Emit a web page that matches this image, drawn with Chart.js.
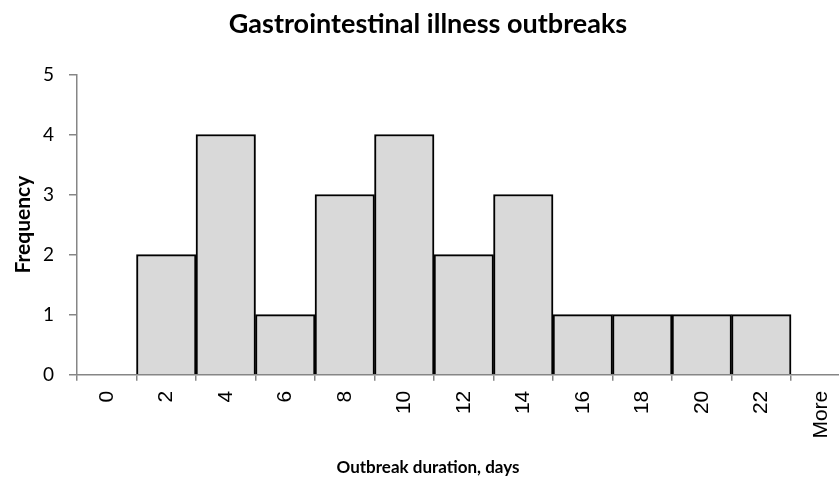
<!DOCTYPE html>
<html>
<head>
<meta charset="utf-8">
<script src="https://cdn.jsdelivr.net/npm/chart.js@4/dist/chart.umd.min.js"></script>
<style>
  html, body { margin: 0; padding: 0; background: #fff; overflow: hidden; }
  #wrap { width: 856px; height: 478px; }
</style>
</head>
<body>
<div id="wrap"><canvas id="c" width="856" height="478"></canvas></div>
<script>
// Histogram bins (upper bound of each duration bin, in days) and counts
const binLabels = ['0', '2', '4', '6', '8', '10', '12', '14', '16', '18', '20', '22', 'More'];
const frequency = [0, 2, 4, 1, 3, 4, 2, 3, 1, 1, 1, 1, 0];
const yTicks = [0, 1, 2, 3, 4, 5];

const axisGray = '#868686';
const fontFamily = 'Lato, "Open Sans", sans-serif';

new Chart(document.getElementById('c'), {
  type: 'bar',
  data: {
    labels: binLabels,
    datasets: [{
      data: frequency,
      backgroundColor: '#d9d9d9',
      borderColor: '#000000',
      borderWidth: 2,
      barPercentage: 1.0,
      categoryPercentage: 1.0
    }]
  },
  options: {
    responsive: false,
    animation: false,
    layout: { padding: { left: 0, right: 0, top: 0, bottom: 0 } },
    plugins: {
      legend: { display: false },
      tooltip: { enabled: false },
      title: {
        display: true,
        text: 'Gastrointestinal illness outbreaks',
        color: '#000',
        font: { family: fontFamily, size: 27, weight: 'bold' },
        padding: { top: 8, bottom: 34 }
      },
      subtitle: {
        display: true,
        position: 'bottom',
        text: 'Outbreak duration, days',
        color: '#000',
        font: { family: fontFamily, size: 17, weight: 'bold' },
        padding: { top: 9, bottom: 0 }
      }
    },
    scales: {
      x: {
        offset: true,
        grid: {
          offset: true,
          drawOnChartArea: false,
          drawTicks: true,
          tickLength: 6,
          color: axisGray,
          lineWidth: 1.5
        },
        border: { color: axisGray, width: 1.5 },
        ticks: {
          color: '#000',
          minRotation: 90,
          maxRotation: 90,
          padding: 10,
          font: { family: '"Liberation Sans", Arial, sans-serif', size: 21 }
        }
      },
      y: {
        min: 0,
        max: 5,
        afterBuildTicks: (axis) => { axis.ticks = yTicks.map(v => ({ value: v })); },
        afterFit: (axis) => { axis.width = 77; },
        grid: {
          drawOnChartArea: false,
          drawTicks: true,
          tickLength: 8,
          color: axisGray,
          lineWidth: 1.5
        },
        border: { color: axisGray, width: 1.5 },
        ticks: {
          color: '#000',
          padding: 15,
          font: { family: fontFamily, size: 19 }
        },
        title: {
          display: true,
          text: 'Frequency',
          color: '#000',
          font: { family: fontFamily, size: 21, weight: 'bold' },
          padding: { top: 11, bottom: 2 }
        }
      }
    }
  }
});
</script>
</body>
</html>
